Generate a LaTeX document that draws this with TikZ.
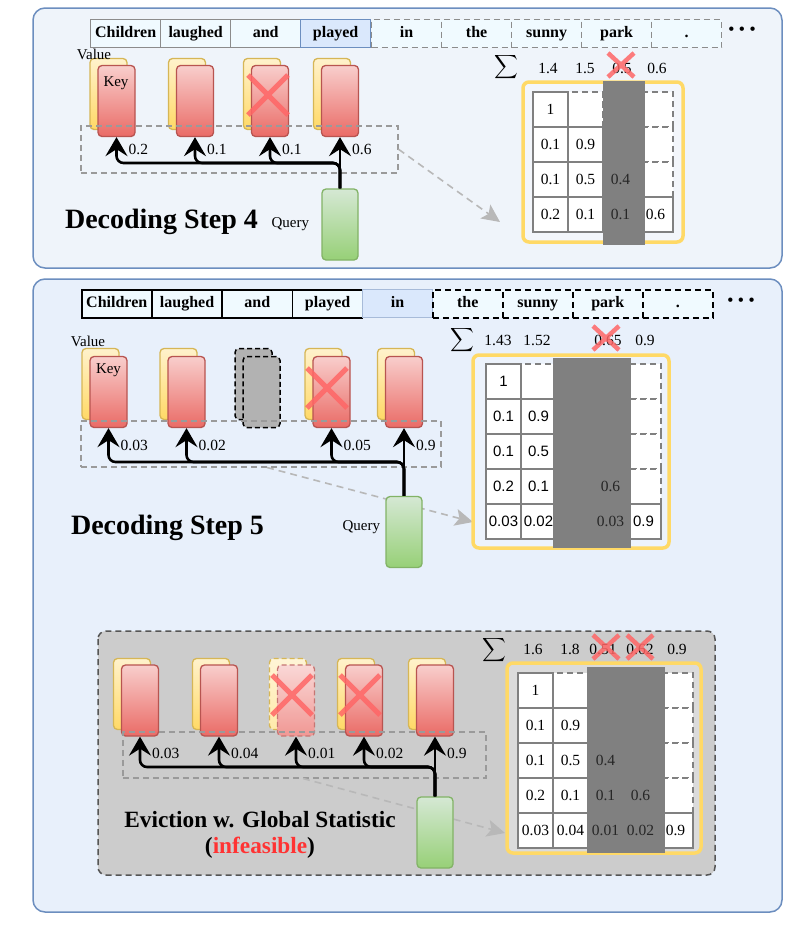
\documentclass[tikz,border=0pt]{standalone}
\usepackage{fontspec}
\setmainfont{Liberation Serif}
\newfontfamily\sansnum{Liberation Sans}
\usetikzlibrary{arrows.meta,calc}
\definecolor{panelb}{HTML}{6C8EBF}
\definecolor{panelA}{HTML}{EFF4FA}
\definecolor{panelB}{HTML}{E8F0FB}
\definecolor{tokfill}{HTML}{F0FAFF}
\definecolor{tokgray}{HTML}{8C8C8C}
\definecolor{bluefill}{HTML}{DAE8FC}
\definecolor{keyb}{HTML}{B85450}
\definecolor{keyt}{HTML}{F8CECC}
\definecolor{keybt}{HTML}{EA6B66}
\definecolor{valb}{HTML}{D6B656}
\definecolor{valt}{HTML}{FFF2CC}
\definecolor{valbt}{HTML}{FFD966}
\definecolor{qb}{HTML}{82B366}
\definecolor{qt}{HTML}{D5E8D4}
\definecolor{qbt}{HTML}{97D077}
\definecolor{xred}{HTML}{FF6666}
\definecolor{selgray}{HTML}{9A9A9A}
\definecolor{lgray}{HTML}{B8B8B8}
\definecolor{cellb}{HTML}{808080}
\definecolor{bandc}{HTML}{808080}
\definecolor{orng}{HTML}{FFD966}
\definecolor{boxfill}{HTML}{CCCCCC}
\definecolor{boxb}{HTML}{555555}
\definecolor{infred}{HTML}{FF3333}
\newcommand\tokfont{\fontsize{16}{17}\selectfont\bfseries}
\newcommand\numfont{\fontsize{15.5}{16}\selectfont}
\newcommand\lblfont{\fontsize{15}{16}\selectfont}
\newcommand\bigfont{\fontsize{28}{30}\selectfont\bfseries}
\newcommand\midfont{\fontsize{23.3}{25}\selectfont\bfseries}
\newcommand\bigsig{\scalebox{1.65}{$\displaystyle\sum$}}
\begin{document}
\begin{tikzpicture}[x=1pt,y=-1pt,
  tokA/.style={draw=tokgray, line width=1.3pt, fill=tokfill, minimum width=70pt, minimum height=28pt, inner sep=0pt, anchor=north west, font=\tokfont, text height=11pt, text depth=3pt},
  tokAd/.style={tokA, dash pattern=on 6pt off 4pt},
  tokAb/.style={tokA, fill=bluefill, draw=panelb},
  tokB/.style={tokA, draw=black, line width=1.5pt},
  tokBd/.style={tokB, dash pattern=on 6pt off 4pt},
  tokBb/.style={tokA, fill=bluefill, draw=panelb!60},
  keyn/.style={draw=keyb, line width=1.3pt, rounded corners=4pt, top color=keyt, bottom color=keybt, minimum width=37pt, minimum height=71pt, inner sep=0pt},
  valn/.style={keyn, draw=valb, top color=valt, bottom color=valbt},
  qn/.style={keyn, draw=qb, top color=qt, bottom color=qbt, minimum width=36pt},
  ghost/.style={draw=black, line width=1.5pt, dash pattern=on 5pt off 3pt, fill=black!30, rounded corners=4pt, minimum width=37pt, minimum height=71pt, inner sep=0pt},
  fval/.style={keyn, draw=valb, top color=valt!80!white, bottom color=valbt!55!white, dash pattern=on 5pt off 3pt},
  fkey/.style={keyn, draw=keyb!80, top color=keyt!80!white, bottom color=keybt!70!white, dash pattern=on 5pt off 3pt},
  selbox/.style={draw=selgray, line width=1.5pt, dash pattern=on 6pt off 4pt, inner sep=0pt, anchor=north west},
  conn/.style={line width=2.6pt, rounded corners=7pt, -{Stealth[length=19pt,width=22pt,inset=7pt]}},
  garr/.style={draw=lgray, line width=1.6pt, dash pattern=on 7pt off 5pt, -{Stealth[length=18pt,width=17pt,inset=4pt]}},
  xm/.style={draw=xred, line width=5pt, opacity=0.85},
  xs/.style={draw=xred, line width=4.5pt, opacity=0.85},
  dcell/.style={draw=cellb, line width=1.5pt, dash pattern=on 6pt off 4pt, fill=white},
  scell/.style={draw=cellb, line width=1.5pt, fill=white},
  orf/.style={draw=orng, line width=3.5pt, rounded corners=6pt},
  num/.style={font=\numfont, inner sep=0pt},
  snum/.style={font={\sansnum\fontsize{15}{16}\selectfont}, inner sep=0pt},
  dnum/.style={num, text=black!85},
  lbl/.style={font=\lblfont, inner sep=0pt},
  sig/.style={inner sep=0pt}
]
\useasboundingbox (0,0) rectangle (796,935);

% ================= panels =================
\draw[draw=panelb, line width=1.5pt, fill=panelA, rounded corners=12pt] (33,8) rectangle (782,268);
\draw[draw=panelb, line width=1.5pt, fill=panelB, rounded corners=12pt] (33,279) rectangle (782,912);
\draw[draw=boxb, fill=boxfill, line width=1.5pt, dash pattern=on 6pt off 4pt, rounded corners=8pt] (98,631) rectangle (715,875);

% ================= step 4 =================
\foreach \w [count=\i from 0] in {Children,laughed,and} \node[tokA] (ta\i) at ({90+70*\i},19) {\w};
\node[tokAb] (ta3) at (300,19) {played};
\foreach \w [count=\i from 4] in {in,the,sunny,park,.} \node[tokAd] (ta\i) at ({91+70*\i},19) {\w};
\node[font=\tokfont] (dotsa) at (742,31) {\textbullet\hspace{5pt}\textbullet\hspace{5pt}\textbullet};

\foreach \x [count=\i] in {116.5,195,270,340} {
  \node[valn] (va\i) at ({\x-8},94) {};
  \node[keyn] (ka\i) at (\x,101) {};
}
\node[lbl] (vlbla) at (94,54) {Value};
\node[lbl] (klbla) at (116,83) {Key};
\node[selbox, minimum width=317pt, minimum height=47pt] (sela) at (80,125) {};
\coordinate (gta) at (500,222);
\draw[garr] (sela.east) -- (gta);
\node[qn] (qa) at (340,224.5) {};
\coordinate (ha) at (0,163);
\foreach \i in {1,2,3} \draw[conn] (qa.north) |- (ka\i.south |- ha) -- (ka\i.south);
\draw[conn] (qa.north) -- (ka4.south);
\foreach \x/\l [count=\i] in {116.5/0.2,195/0.1,270/0.1,340/0.6} \node[num, anchor=west] (wa\i) at ({\x+12},149) {\l};
\coordinate (xa) at (268,95);
\draw[xm] ($(xa)+(-20,-20)$) -- ($(xa)+(20,20)$) ($(xa)+(20,-20)$) -- ($(xa)+(-20,20)$);
\node[font=\bigfont] (titlea) at (161.5,222) {Decoding Step 4};
\node[lbl, anchor=east] (qlbla) at ($(qa.west)+(-12,0)$) {Query};

% sums step 4
\node[sig] (siga) at (506,67) {\bigsig};
\foreach \x/\l [count=\i] in {548/1.4,585/1.5,622/0.5,657/0.6} \node[num] (sa\i) at (\x,68) {\l};
\coordinate (xsa) at (621,65);
\draw[xs] ($(xsa)+(-13,-12)$) -- ($(xsa)+(13,12)$) ($(xsa)+(13,-12)$) -- ($(xsa)+(-13,12)$);

% matrix step 4
\draw[orf, fill=white, fill opacity=0.25] (523,82) rectangle (683,242);
\foreach \ri/\ci in {1/2,1/3,1/4,2/3,2/4,3/4} \draw[dcell] ({533+(\ci-1)*35},{92+(\ri-1)*35}) rectangle ++(35,35);
\foreach \ri/\ci in {1/1,2/1,2/2,3/1,3/2,3/3,4/1,4/2,4/3,4/4} \draw[scell] ({533+(\ci-1)*35},{92+(\ri-1)*35}) rectangle ++(35,35);
\fill[bandc] (603,81) rectangle (645,245);
\foreach \ri/\ci/\vv in {1/1/1,2/1/0.1,2/2/0.9,3/1/0.1,3/2/0.5,4/1/0.2,4/2/0.1,4/4/0.6} \node[num] (ma-\ri-\ci) at ({533+(\ci-0.5)*35},{92+(\ri-0.5)*35}) {\vv};
\foreach \ri/\ci/\vv in {3/3/0.4,4/3/0.1} \node[dnum] (ma-\ri-\ci) at ({533+(\ci-0.5)*35},{92+(\ri-0.5)*35}) {\vv};

% ================= step 5 =================
\foreach \w [count=\i from 0] in {Children,laughed,and,played} \node[tokB] (tb\i) at ({81+70.3*\i},289) {\w};
\node[tokBb] (tb4) at (362,289) {in};
\foreach \w [count=\i from 5] in {the,sunny,park,.} \node[tokBd] (tb\i) at ({82+70*\i},289) {\w};
\node[font=\tokfont] (dotsb) at (741,302) {\textbullet\hspace{5pt}\textbullet\hspace{5pt}\textbullet};

\foreach \x [count=\i] in {108.5,186.5} {
  \node[valn] (vb\i) at ({\x-8},384) {};
  \node[keyn] (kb\i) at (\x,392) {};
}
\node[ghost] (vb3) at (253.5,384) {};
\node[ghost] (kb3) at (261.5,392) {};
\foreach \x [count=\i from 4] in {331.5,404} {
  \node[valn] (vb\i) at ({\x-8},384) {};
  \node[keyn] (kb\i) at (\x,392) {};
}
\node[lbl] (vlblb) at (88,341) {Value};
\node[lbl] (klblb) at (108.5,370) {Key};
\node[selbox, minimum width=360pt, minimum height=46pt] (selb) at (80,420) {};
\coordinate (gtb) at (473,522);
\draw[garr] ($(selb.south west)+(187,0)$) -- (gtb);
\node[qn] (qb) at (404,532) {};
\coordinate (hb) at (0,462);
\foreach \i in {1,2,4} \draw[conn] (qb.north) |- (kb\i.south |- hb) -- (kb\i.south);
\draw[conn] (qb.north) -- (kb5.south);
\foreach \x/\l [count=\i] in {108.5/0.03,186.5/0.02,331.5/0.05,404/0.9} \node[num, anchor=west] (wb\i) at ({\x+12},445) {\l};
\coordinate (xb) at (327,388);
\draw[xm] ($(xb)+(-20,-20)$) -- ($(xb)+(20,20)$) ($(xb)+(20,-20)$) -- ($(xb)+(-20,20)$);
\node[font=\bigfont] (titleb) at (167.5,528) {Decoding Step 5};
\node[lbl, anchor=east] (qlblb) at ($(qb.west)+(-5,-5)$) {Query};

% sums step 5
\node[sig] (sigb) at (462,340) {\bigsig};
\foreach \x/\l [count=\i] in {498/1.43,537/1.52,608/0.65,645/0.9} \node[num] (sb\i) at (\x,340) {\l};
\coordinate (xsb) at (606,338);
\draw[xs] ($(xsb)+(-13,-12)$) -- ($(xsb)+(13,12)$) ($(xsb)+(13,-12)$) -- ($(xsb)+(-13,12)$);

% matrix step 5
\draw[orf, fill=white, fill opacity=0.25] (473,355) rectangle (669,548);
\foreach \ri/\ci in {1/2,1/3,1/4,1/5,2/3,2/4,2/5,3/4,3/5,4/5} \draw[dcell] ({486+(\ci-1)*35},{364+(\ri-1)*35}) rectangle ++(35,35);
\foreach \ri/\ci in {1/1,2/1,2/2,3/1,3/2,3/3,4/1,4/2,4/3,4/4,5/1,5/2,5/3,5/4,5/5} \draw[scell] ({486+(\ci-1)*35},{364+(\ri-1)*35}) rectangle ++(35,35);
\fill[bandc] (553,358) rectangle (631,548);
\foreach \ri/\ci/\vv in {1/1/1,2/1/0.1,2/2/0.9,3/1/0.1,3/2/0.5,4/1/0.2,4/2/0.1,5/1/0.03,5/2/0.02,5/5/0.9} \node[snum] (mb-\ri-\ci) at ({486+(\ci-0.5)*35},{364+(\ri-0.5)*35}) {\vv};
\foreach \ri/\ci/\vv in {4/4/0.6,5/4/0.03} \node[dnum] (mb-\ri-\ci) at ({488+(\ci-0.5)*35},{364+(\ri-0.5)*35}) {\vv};

% ================= global statistic =================
\foreach \x [count=\i] in {140,219} {
  \node[valn] (vc\i) at ({\x-8},694) {};
  \node[keyn] (kc\i) at (\x,700.5) {};
}
\node[fval] (vc3) at (288,694) {};
\node[fkey] (kc3) at (296,700.5) {};
\foreach \x [count=\i from 4] in {364,435} {
  \node[valn] (vc\i) at ({\x-8},694) {};
  \node[keyn] (kc\i) at (\x,700.5) {};
}
\node[selbox, minimum width=363pt, minimum height=46pt] (selc) at (122,731) {};
\coordinate (gtc) at (505,833);
\draw[garr] ($(selc.south west)+(181,0)$) -- (gtc);
\node[qn] (qc) at (435,832.5) {};
\coordinate (hc) at (0,767);
\foreach \i in {1,2,3,4} \draw[conn] (qc.north) |- (kc\i.south |- hc) -- (kc\i.south);
\draw[conn] (qc.north) -- (kc5.south);
\foreach \x/\l [count=\i] in {140/0.03,219/0.04,296/0.01,364/0.02,435/0.9} \node[num, anchor=west] (wc\i) at ({\x+12},753) {\l};
\coordinate (xc3) at (292,695);
\coordinate (xc4) at (360,695);
\draw[xm] ($(xc3)+(-20,-20)$) -- ($(xc3)+(20,20)$) ($(xc3)+(20,-20)$) -- ($(xc3)+(-20,20)$);
\draw[xm] ($(xc4)+(-20,-20)$) -- ($(xc4)+(20,20)$) ($(xc4)+(20,-20)$) -- ($(xc4)+(-20,20)$);
\node[font=\midfont] (titlec) at (260,820) {Eviction w. Global Statistic};
\node[font=\midfont] (infc) at (260,848) {(\textcolor{infred}{infeasible})};

% sums global
\node[sig] (sigc) at (494,650) {\bigsig};
\foreach \x/\l [count=\i] in {533/1.6,570/1.8,603/0.51,640/0.62,677/0.9} \node[num] (sc\i) at (\x,649) {\l};
\coordinate (xsc1) at (606,647);
\coordinate (xsc2) at (640,647);
\draw[xs] ($(xsc1)+(-13,-12)$) -- ($(xsc1)+(13,12)$) ($(xsc1)+(13,-12)$) -- ($(xsc1)+(-13,12)$);
\draw[xs] ($(xsc2)+(-13,-12)$) -- ($(xsc2)+(13,12)$) ($(xsc2)+(13,-12)$) -- ($(xsc2)+(-13,12)$);

% matrix global
\draw[orf, fill=white, fill opacity=0.3] (507,663) rectangle (701,853);
\foreach \ri/\ci in {1/2,1/3,1/4,1/5,2/3,2/4,2/5,3/4,3/5,4/5} \draw[dcell] ({518+(\ci-1)*35},{673+(\ri-1)*35}) rectangle ++(35,35);
\foreach \ri/\ci in {1/1,2/1,2/2,3/1,3/2,3/3,4/1,4/2,4/3,4/4,5/1,5/2,5/3,5/4,5/5} \draw[scell] ({518+(\ci-1)*35},{673+(\ri-1)*35}) rectangle ++(35,35);
\fill[bandc] (587,667) rectangle (665,853);
\foreach \ri/\ci/\vv in {1/1/1,2/1/0.1,2/2/0.9,3/1/0.1,3/2/0.5,4/1/0.2,4/2/0.1,5/1/0.03,5/2/0.04,5/5/0.9} \node[num] (mc-\ri-\ci) at ({518+(\ci-0.5)*35},{673+(\ri-0.5)*35}) {\vv};
\foreach \ri/\ci/\vv in {3/3/0.4,4/3/0.1,4/4/0.6,5/3/0.01,5/4/0.02} \node[dnum] (mc-\ri-\ci) at ({518+(\ci-0.5)*35},{673+(\ri-0.5)*35}) {\vv};
\end{tikzpicture}
\end{document}
